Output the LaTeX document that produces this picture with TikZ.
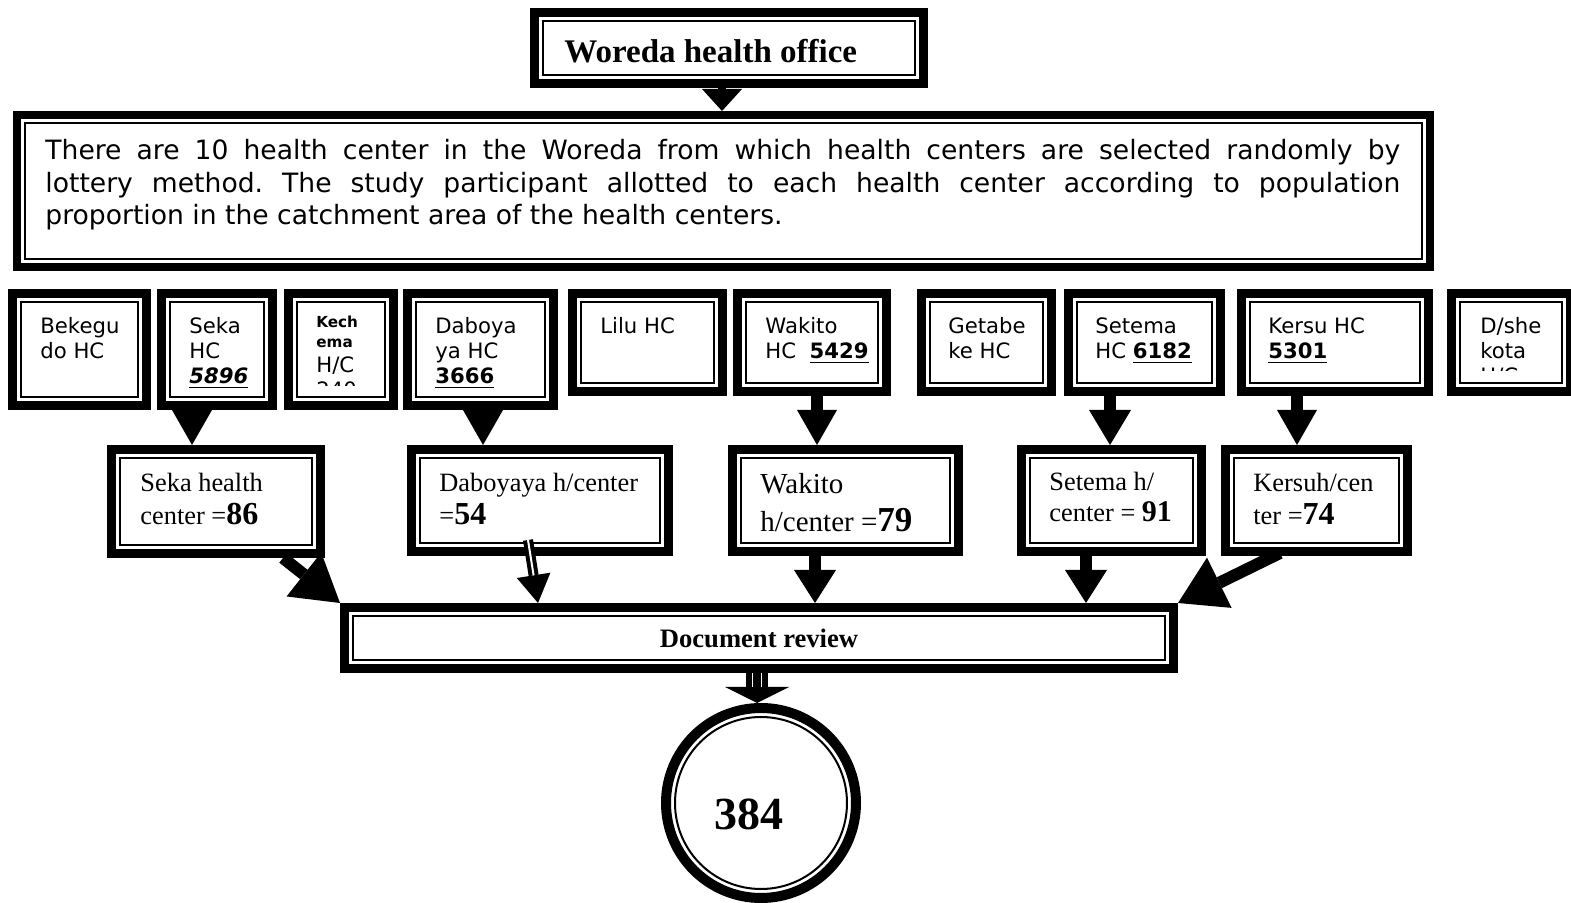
\documentclass[tikz,border=0pt]{standalone}
\usepackage{fontspec}
\setmainfont{Liberation Serif}
\newfontfamily\dv{DejaVu Sans}
\usetikzlibrary{arrows.meta}
\newcommand\ptext[1]{\parbox[t]{300pt}{\raggedright #1}}
\newcommand\bignum[2]{{\bfseries\fontsize{#1}{#1}\selectfont #2}}
\tikzset{
  dbox/.style={draw, line width=#1, outer sep={0.5*#1}, inner sep=0pt, fill=white},
  dbox/.default=4.5pt,
  innerline/.style={line width=1pt},
  arw/.style n args={3}{line width=#1, -{Triangle[length=#2, width=#3, line width=0pt]}},
  hctext/.style={anchor=base west, inner sep=0pt, font=\dv\fontsize{10.6}{12.5}\selectfont},
  sertext/.style={anchor=base west, inner sep=0pt, font=\fontsize{13.2}{16.5}\selectfont},
}
\begin{document}
\begin{tikzpicture}[x=0.5pt,y=-0.5pt]
\useasboundingbox (0,0) rectangle (1571,903);
\clip (0,0) rectangle (1571,903);

% boxes
\node[dbox, minimum width=194.5pt, minimum height=35.5pt] (T) at (729,48) {};
\node[dbox=4pt, minimum width=706.5pt, minimum height=76pt] (B) at (723.5,191) {};

\node[dbox, minimum width=67pt, minimum height=56pt] (h1) at (79.5,349.5) {};
\node[dbox, minimum width=55.5pt, minimum height=56pt] (h2) at (217,349.5) {};
\node[dbox, minimum width=52.5pt, minimum height=56pt] (h3) at (341,349.5) {};
\node[dbox, minimum width=73pt, minimum height=56pt] (h4) at (480.5,349.5) {};
\node[dbox, minimum width=75pt, minimum height=49pt] (h5) at (647.5,342.5) {};
\node[dbox, minimum width=74.5pt, minimum height=49pt] (h6) at (812,342.5) {};
\node[dbox, minimum width=65pt, minimum height=49pt] (h7) at (986.5,342.5) {};
\node[dbox, minimum width=76pt, minimum height=49pt] (h8) at (1144.5,342.5) {};
\node[dbox, minimum width=93.5pt, minimum height=49pt] (h9) at (1335,342.5) {};
\node[dbox, minimum width=59.5pt, minimum height=49pt] (h10) at (1511,342.5) {};

\node[dbox, minimum width=104.5pt, minimum height=52pt] (s2) at (216,501.5) {};
\node[dbox, minimum width=128.5pt, minimum height=51pt] (d2) at (540,500.5) {};
\node[dbox, minimum width=113pt, minimum height=51pt] (w2) at (845.5,500.5) {};
\node[dbox, minimum width=90pt, minimum height=51pt] (e2) at (1111.5,500.5) {};
\node[dbox, minimum width=91pt, minimum height=51pt] (k2) at (1316.5,500.5) {};

\node[dbox, minimum width=414.5pt, minimum height=30.5pt, font=\bfseries\fontsize{13.3}{15}\selectfont,
      text height=10pt, text depth=0pt] (DR) at (759,638) {Document review};
\node[circle, draw, line width=5pt, outer sep=2.5pt, minimum size=95pt, inner sep=0pt, fill=white,
      font=\bfseries\fontsize{23}{24}\selectfont, text height=27pt, text depth=0pt] (C) at (761,803) {384\kern12pt};
\draw[innerline] (C.center) circle (43pt);

% inner thin frames of the double borders
\foreach \n/\w in {T/4.5pt, B/4pt, h1/4.5pt, h2/4.5pt, h3/4.5pt, h4/4.5pt, h5/4.5pt, h6/4.5pt,
                   h7/4.5pt, h8/4.5pt, h9/4.5pt, h10/4.5pt, s2/4.5pt, d2/4.5pt, w2/4.5pt,
                   e2/4.5pt, k2/4.5pt, DR/4.5pt}
  \draw[innerline] ([shift={(\w+2pt,-\w-2pt)}]\n.north west) rectangle ([shift={(-\w-2pt,\w+2pt)}]\n.south east);

% texts
\node[anchor=base west, inner sep=0pt, font=\bfseries\fontsize{16.5}{18}\selectfont] (Tt) at (564,63) {Woreda health office};
\node[anchor=base west, inner sep=0pt, font=\dv\fontsize{13.3}{16.25}\selectfont] (Bt) at (45,160)
  {\parbox[t]{677.5pt}{\frenchspacing There are 10 health center in the Woreda from which health centers are selected randomly by\linebreak
   lottery method. The study participant allotted to each health center according to population\linebreak
   proportion in the catchment area of the health centers.}};

\node[hctext] (t1) at (40,334) {\ptext{Bekegu\\do HC}};
\node[hctext] (t2) at (189,334) {\ptext{Seka\\HC\\\underline{\textbf{\textit{5896}}}}};
\begin{scope}
  \clip (284,300) rectangle (398,386);
  \node[hctext] (t3) at (316,328) {\ptext{{\fontsize{7.6}{10}\selectfont\bfseries Kech\\ema\par}H/C\\240}};
\end{scope}
\node[hctext] (t4) at (435,334) {\ptext{Daboya\\ya HC\\\underline{\textbf{3666}}}};
\node[hctext] (t5) at (600,334) {\ptext{Lilu HC}};
\node[hctext] (t6) at (765,334) {\ptext{Wakito\\HC~~\underline{\textbf{5429}}}};
\node[hctext] (t7) at (948,334) {\ptext{Getabe\\ke HC}};
\node[hctext] (t8) at (1095,334) {\ptext{Setema\\HC \underline{\textbf{6182}}}};
\node[hctext] (t9) at (1268,334) {\ptext{Kersu HC\\\underline{\textbf{5301}}}};
\begin{scope}
  \clip (1446,300) rectangle (1571,371);
  \node[hctext] (t10) at (1480,334) {\ptext{D/she\\kota\\H/C}};
\end{scope}

\node[sertext] (u1) at (140,492) {\ptext{Seka health\\center =\bignum{16}{86}}};
\node[sertext] (u2) at (439,492) {\ptext{Daboyaya h/center\\=\bignum{16}{54}}};
\node[sertext, font=\fontsize{14.5}{19}\selectfont] (u3) at (760,494) {\ptext{Wakito\\h/center =\bignum{17.5}{79}}};
\node[sertext, font=\fontsize{13.2}{15.5}\selectfont] (u4) at (1049,491) {\ptext{Setema h/\\center = \bignum{15}{91}}};
\node[sertext] (u5) at (1253,492) {\ptext{Kersuh/cen\\ter =\bignum{16}{74}}};

% connectors
\draw[arw={4pt}{11pt}{20pt}] ([xshift=-3.5pt]T.south) -- ([xshift=-3.5pt]T.south |- B.north);
\draw[arw={6pt}{17.5pt}{20pt}] ([xshift=-12.5pt]h2.south) -- ([xshift=-12.5pt]h2.south |- s2.north);
\draw[arw={6pt}{17.5pt}{20pt}] ([xshift=1.25pt]h4.south) -- ([xshift=1.25pt]h4.south |- d2.north);
\draw[arw={6pt}{17.5pt}{20pt}] ([xshift=2.5pt]h6.south) -- ([xshift=2.5pt]h6.south |- w2.north);
\draw[arw={6pt}{17.5pt}{21pt}] ([xshift=-17.25pt]h8.south) -- ([xshift=-17.25pt]h8.south |- e2.north);
\draw[arw={6pt}{17.5pt}{20pt}] ([xshift=-19pt]h9.south) -- ([xshift=-19pt]h9.south |- k2.north);

\draw[arw={6pt}{23pt}{28pt}] ([xshift=33.5pt]s2.south) -- (DR.north west);
\draw[arw={5pt}{14pt}{17pt}, postaction={draw=white, line width=1pt, -, shorten >=14pt}]
  ([xshift=-6pt,yshift=8pt]d2.south) -- ([xshift=99pt]DR.north west);
\draw[arw={6pt}{16.5pt}{21pt}] ([xshift=-15.25pt]w2.south) -- ([xshift=-15.25pt]w2.south |- DR.north);
\draw[arw={6pt}{16.5pt}{21pt}] ([xshift=-12.75pt]e2.south) -- ([xshift=-12.75pt]e2.south |- DR.north);
\draw[arw={6pt}{23pt}{28pt}] ([xshift=-18.25pt,yshift=1.5pt]k2.south) -- (DR.north east);
\draw[arw={11pt}{8pt}{32pt}, postaction={draw=white, line width=0.5pt, double=black, double distance=4pt, -, shorten >=8pt}]
  ([xshift=-1pt]DR.south) -- ([xshift=-1pt]DR.south |- C.north);
\end{tikzpicture}
\end{document}
